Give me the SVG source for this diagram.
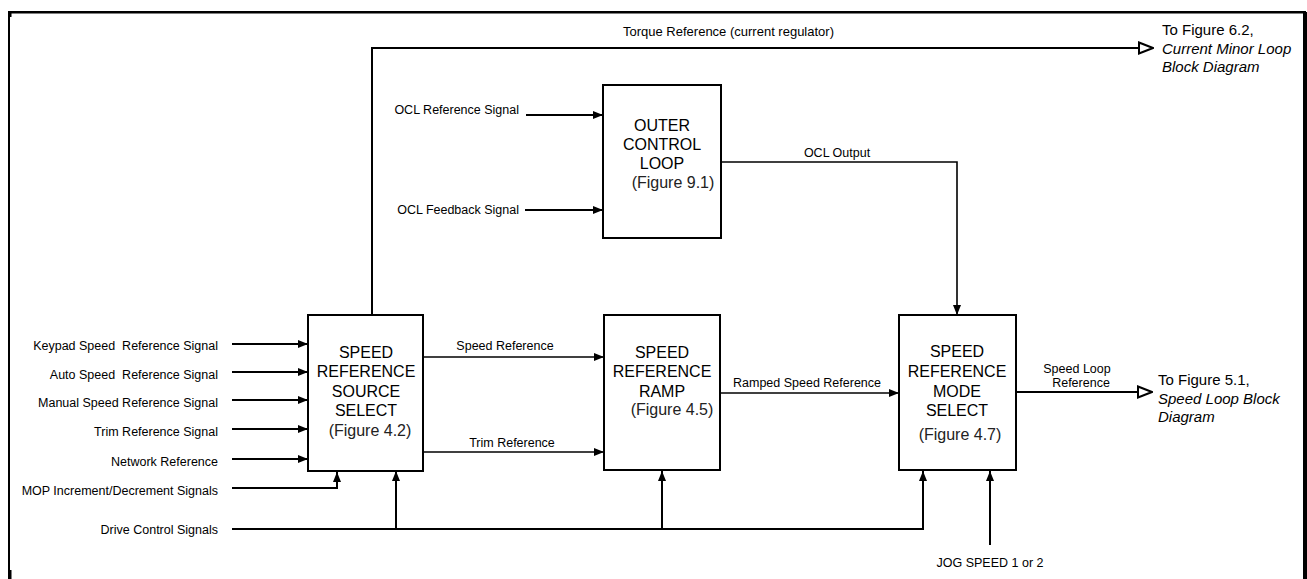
<svg xmlns="http://www.w3.org/2000/svg" width="1307" height="579" viewBox="0 0 1307 579">
<style>
.lbl{font-family:"Liberation Sans",Arial,sans-serif;font-size:12.5px;fill:#000}
.blk{font-family:"Liberation Sans",Arial,sans-serif;font-size:16px;fill:#000;text-anchor:middle}
.fig{font-family:"Liberation Sans",Arial,sans-serif;font-size:16px;fill:#222;text-anchor:middle}
.ext{font-family:"Liberation Sans",Arial,sans-serif;font-size:15px;fill:#000}
.it{font-style:italic}
.box{fill:#fff;stroke:#000;stroke-width:2}
.w{fill:none;stroke:#000;stroke-width:2}
.t{fill:none;stroke:#000;stroke-width:1.6}
.r{text-anchor:end}
.m{text-anchor:middle}
.pre{white-space:pre}
</style>
<defs>
<marker id="ah" markerWidth="10" markerHeight="8" refX="10" refY="4" orient="auto" markerUnits="userSpaceOnUse">
<path d="M0,0 L10,4 L0,8 Z" fill="#000"/>
</marker>
<marker id="oh" markerWidth="16" markerHeight="14" refX="15" refY="7" orient="auto" markerUnits="userSpaceOnUse">
<path d="M1,1.5 L15,7 L1,12.5 Z" fill="#fff" stroke="#000" stroke-width="2"/>
</marker>
</defs>

<g id="frame">
<path d="M9,579 L9,12 L1305,12 L1305,579" fill="none" stroke="#000" stroke-width="2"/>
<rect x="9" y="11" width="1296" height="2.5" fill="#000"/>
<rect x="1303" y="12" width="4" height="567" fill="#000"/>
<rect x="9" y="12" width="2.5" height="5" fill="#000"/>
<rect x="9" y="570" width="2.5" height="9" fill="#000"/>
</g>

<g id="connectors">
<path class="w" d="M372,315 L372,48 L1153,48" marker-end="url(#oh)"/>
<path class="w" d="M232,344 L308,344" marker-end="url(#ah)"/>
<path class="w" d="M232,372 L308,372" marker-end="url(#ah)"/>
<path class="w" d="M232,400 L308,400" marker-end="url(#ah)"/>
<path class="w" d="M232,429 L308,429" marker-end="url(#ah)"/>
<path class="w" d="M232,459 L308,459" marker-end="url(#ah)"/>
<path class="w" d="M232,488 L337,488 L337,472" marker-end="url(#ah)"/>
<path class="w" d="M232,529 L923,529 L923,471" marker-end="url(#ah)"/>
<path class="w" d="M396,529 L396,471" marker-end="url(#ah)"/>
<path class="w" d="M662,529 L662,471" marker-end="url(#ah)"/>
<path class="w" d="M990,545 L990,471" marker-end="url(#ah)"/>
<path class="w" d="M526,115 L603,115" marker-end="url(#ah)"/>
<path class="w" d="M525,210 L603,210" marker-end="url(#ah)"/>
<path class="t" d="M721,162 L957,162 L957,315" marker-end="url(#ah)"/>
<path class="t" d="M423,357 L604,357" marker-end="url(#ah)"/>
<path class="t" d="M423,452 L604,452" marker-end="url(#ah)"/>
<path class="t" d="M720,393 L899,393" marker-end="url(#ah)"/>
<path class="w" d="M1016,392 L1152,392" marker-end="url(#oh)"/>
</g>

<g id="labels">
<text class="lbl" x="623" y="36" style="font-size:13px">Torque Reference (current regulator)</text>
<text class="lbl r" x="519" y="114">OCL Reference Signal</text>
<text class="lbl r" x="519" y="214">OCL Feedback Signal</text>
<text class="lbl r pre" x="218" y="350" xml:space="preserve">Keypad Speed  Reference Signal</text>
<text class="lbl r pre" x="218" y="379" xml:space="preserve">Auto Speed  Reference Signal</text>
<text class="lbl r" x="218" y="407">Manual Speed Reference Signal</text>
<text class="lbl r" x="218" y="436">Trim Reference Signal</text>
<text class="lbl r" x="218" y="466">Network Reference</text>
<text class="lbl r" x="218" y="495">MOP Increment/Decrement Signals</text>
<text class="lbl r" x="218" y="534">Drive Control Signals</text>
<text class="lbl m" x="505" y="350">Speed Reference</text>
<text class="lbl m" x="512" y="447">Trim Reference</text>
<text class="lbl m" x="837" y="157">OCL Output</text>
<text class="lbl" x="733" y="387">Ramped Speed Reference</text>
<text class="lbl m" x="1077" y="373">Speed Loop</text>
<text class="lbl m" x="1081" y="387">Reference</text>
<text class="lbl m" x="990" y="567">JOG SPEED 1 or 2</text>
<text class="ext" x="1162" y="35">To Figure 6.2,</text>
<text class="ext it" x="1162" y="54">Current Minor Loop</text>
<text class="ext it" x="1162" y="72">Block Diagram</text>
<text class="ext" x="1158" y="385">To Figure 5.1,</text>
<text class="ext it" x="1158" y="404">Speed Loop Block</text>
<text class="ext it" x="1158" y="422">Diagram</text>
</g>

<g id="outer-control-loop">
<rect class="box" x="603" y="85" width="118" height="153"/>
<text class="blk" x="662" y="131">OUTER</text>
<text class="blk" x="662" y="150">CONTROL</text>
<text class="blk" x="662" y="169">LOOP</text>
<text class="fig" x="673" y="188">(Figure 9.1)</text>
</g>

<g id="speed-reference-source-select">
<rect class="box" x="308" y="315" width="115" height="156"/>
<text class="blk" x="366" y="358">SPEED</text>
<text class="blk" x="366" y="377">REFERENCE</text>
<text class="blk" x="366" y="397">SOURCE</text>
<text class="blk" x="366" y="416">SELECT</text>
<text class="fig" x="370" y="436">(Figure 4.2)</text>
</g>

<g id="speed-reference-ramp">
<rect class="box" x="604" y="315" width="116" height="155"/>
<text class="blk" x="662" y="358">SPEED</text>
<text class="blk" x="662" y="377">REFERENCE</text>
<text class="blk" x="662" y="397">RAMP</text>
<text class="fig" x="672" y="415">(Figure 4.5)</text>
</g>

<g id="speed-reference-mode-select">
<rect class="box" x="899" y="315" width="117" height="155"/>
<text class="blk" x="957" y="357">SPEED</text>
<text class="blk" x="957" y="377">REFERENCE</text>
<text class="blk" x="957" y="397">MODE</text>
<text class="blk" x="957" y="416">SELECT</text>
<text class="fig" x="960" y="440">(Figure 4.7)</text>
</g>
</svg>
